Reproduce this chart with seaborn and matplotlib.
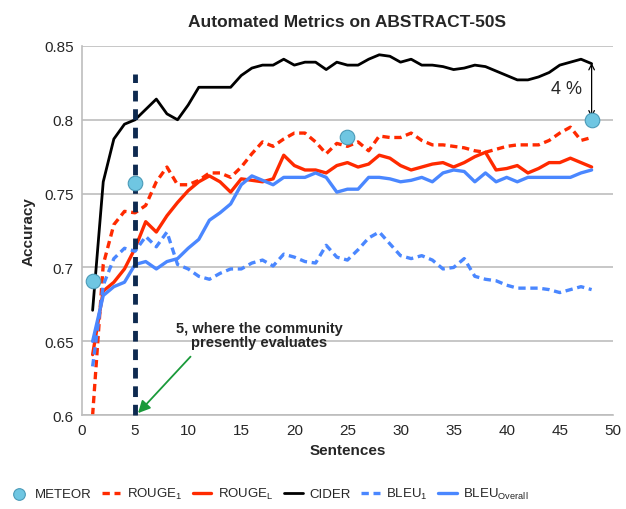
import numpy as np
import pandas as pd
import matplotlib
matplotlib.use("Agg")
import matplotlib.pyplot as plt
import seaborn as sns

sns.set_style("white")
plt.rcParams['font.family'] = ['Liberation Sans', 'DejaVu Sans']
plt.rcParams['mathtext.fontset'] = 'custom'
plt.rcParams['mathtext.rm'] = 'Liberation Sans'
plt.rcParams['mathtext.it'] = 'Liberation Sans'

# sentences 1..48
sentences = list(range(1, 49))

cider = [0.671, 0.758, 0.787, 0.797, 0.800, 0.807, 0.814, 0.804, 0.800, 0.810,
         0.822, 0.822, 0.822, 0.822, 0.830, 0.835, 0.837, 0.837, 0.841, 0.837,
         0.839, 0.839, 0.834, 0.839, 0.837, 0.837, 0.841, 0.844, 0.843, 0.839,
         0.841, 0.837, 0.837, 0.836, 0.834, 0.835, 0.837, 0.836, 0.833, 0.830,
         0.827, 0.827, 0.829, 0.832, 0.837, 0.839, 0.841, 0.838]

rouge_1 = [0.600, 0.702, 0.729, 0.738, 0.737, 0.742, 0.758, 0.768, 0.756, 0.756,
           0.759, 0.764, 0.764, 0.761, 0.768, 0.777, 0.785, 0.782, 0.787, 0.791,
           0.791, 0.785, 0.777, 0.784, 0.782, 0.785, 0.779, 0.789, 0.788, 0.788,
           0.791, 0.786, 0.783, 0.783, 0.782, 0.781, 0.779, 0.778, 0.780, 0.782,
           0.783, 0.783, 0.783, 0.786, 0.791, 0.795, 0.786, 0.788]

rouge_l = [0.641, 0.684, 0.690, 0.699, 0.713, 0.731, 0.724, 0.735, 0.744, 0.752,
           0.758, 0.762, 0.758, 0.751, 0.760, 0.759, 0.758, 0.760, 0.776, 0.769,
           0.766, 0.766, 0.764, 0.769, 0.771, 0.768, 0.770, 0.776, 0.774, 0.769,
           0.766, 0.768, 0.770, 0.771, 0.768, 0.771, 0.775, 0.778, 0.766, 0.767,
           0.769, 0.764, 0.767, 0.771, 0.771, 0.774, 0.771, 0.768]

bleu_1 = [0.633, 0.688, 0.706, 0.713, 0.711, 0.721, 0.714, 0.724, 0.702, 0.699,
          0.694, 0.692, 0.696, 0.699, 0.699, 0.703, 0.705, 0.701, 0.709, 0.707,
          0.704, 0.703, 0.715, 0.707, 0.705, 0.712, 0.720, 0.724, 0.716, 0.708,
          0.706, 0.708, 0.705, 0.699, 0.700, 0.706, 0.694, 0.692, 0.691, 0.688,
          0.686, 0.686, 0.686, 0.685, 0.683, 0.685, 0.687, 0.685]

bleu_overall = [0.650, 0.681, 0.687, 0.690, 0.702, 0.704, 0.699, 0.704, 0.706, 0.713,
                0.719, 0.732, 0.737, 0.743, 0.756, 0.762, 0.759, 0.756, 0.761, 0.761,
                0.761, 0.764, 0.761, 0.751, 0.753, 0.753, 0.761, 0.761, 0.760, 0.758,
                0.759, 0.761, 0.758, 0.764, 0.766, 0.765, 0.758, 0.764, 0.758, 0.761,
                0.758, 0.761, 0.761, 0.761, 0.761, 0.761, 0.764, 0.766]

meteor_x = [1, 5, 25, 48]
meteor_y = [0.691, 0.757, 0.788, 0.800]

red = '#ff2a00'
blue = '#4a87ff'

fig = plt.figure(figsize=(6.26, 5.10), dpi=100)
ax = fig.add_axes([0.131, 0.184, 0.848, 0.724])

ax.yaxis.grid(True, color='#bdbdbd', lw=1.2)
ax.set_axisbelow(True)

sns.lineplot(x=sentences, y=rouge_1, ax=ax, color=red, lw=2.4,
             linestyle=(0, (2.2, 1.4)), label='ROUGE$_1$')
sns.lineplot(x=sentences, y=rouge_l, ax=ax, color=red, lw=2.4, label='ROUGE$_L$')
sns.lineplot(x=sentences, y=cider, ax=ax, color='black', lw=2.0, label='CIDER')
sns.lineplot(x=sentences, y=bleu_1, ax=ax, color=blue, lw=2.4,
             linestyle=(0, (2.2, 1.4)), label='BLEU$_1$')
sns.lineplot(x=sentences, y=bleu_overall, ax=ax, color=blue, lw=2.4,
             label='BLEU$_{Overall}$')
sns.scatterplot(x=meteor_x, y=meteor_y, ax=ax, s=110, color='#6fc6e2',
                edgecolor='#4a9ab8', linewidth=0.8, zorder=5, label='METEOR')

# community evaluation marker
ax.plot([5, 5], [0.6, 0.831], color='#0e2a50', lw=3.5, linestyle=(0, (2.2, 1.6)),
        zorder=4, clip_on=False)
ax.annotate('', xy=(5.1, 0.6), xytext=(10.4, 0.641),
            arrowprops=dict(arrowstyle='-|>', color='#1a9a3a', lw=1.3,
                            mutation_scale=18), zorder=6)
ax.text(16.7, 0.654, '5, where the community\npresently evaluates', ha='center',
        va='center', fontsize=10.5, fontweight='bold', linespacing=1.0)

# 4 % gap
ax.annotate('', xy=(48, 0.8015), xytext=(48, 0.8385),
            arrowprops=dict(arrowstyle='<->', color='black', lw=0.9,
                            shrinkA=0, shrinkB=0))
ax.text(45.6, 0.8215, '4 %', ha='center', va='center', fontsize=13)

ax.set_xlim(0, 50)
ax.set_ylim(0.6, 0.85)
ax.set_xticks(range(0, 51, 5))
ax.set_yticks([0.6, 0.65, 0.7, 0.75, 0.8, 0.85])
ax.set_yticklabels(['0.6', '0.65', '0.7', '0.75', '0.8', '0.85'])
ax.tick_params(labelsize=11, length=0, pad=6)
for s in ['top', 'right']:
    ax.spines[s].set_visible(False)
for s in ['left', 'bottom']:
    ax.spines[s].set_color('#bdbdbd')
    ax.spines[s].set_linewidth(1.2)

ax.set_xlabel('Sentences', fontsize=11, fontweight='bold', labelpad=4)
ax.set_ylabel('Accuracy', fontsize=11, fontweight='bold', labelpad=6)
ax.set_title('Automated Metrics on ABSTRACT-50S', fontsize=12.5,
             fontweight='bold', pad=14)

handles, labels = ax.get_legend_handles_labels()
order = [5, 0, 1, 2, 3, 4]
ax.legend([handles[i] for i in order], [labels[i] for i in order],
          loc='center', bbox_to_anchor=(0.43, 0.03), bbox_transform=fig.transFigure,
          ncol=6, frameon=False, fontsize=9.5,
          handlelength=1.4, handletextpad=0.5, columnspacing=0.8,
          markerscale=0.8)

fig.savefig('out.png', dpi=100)
